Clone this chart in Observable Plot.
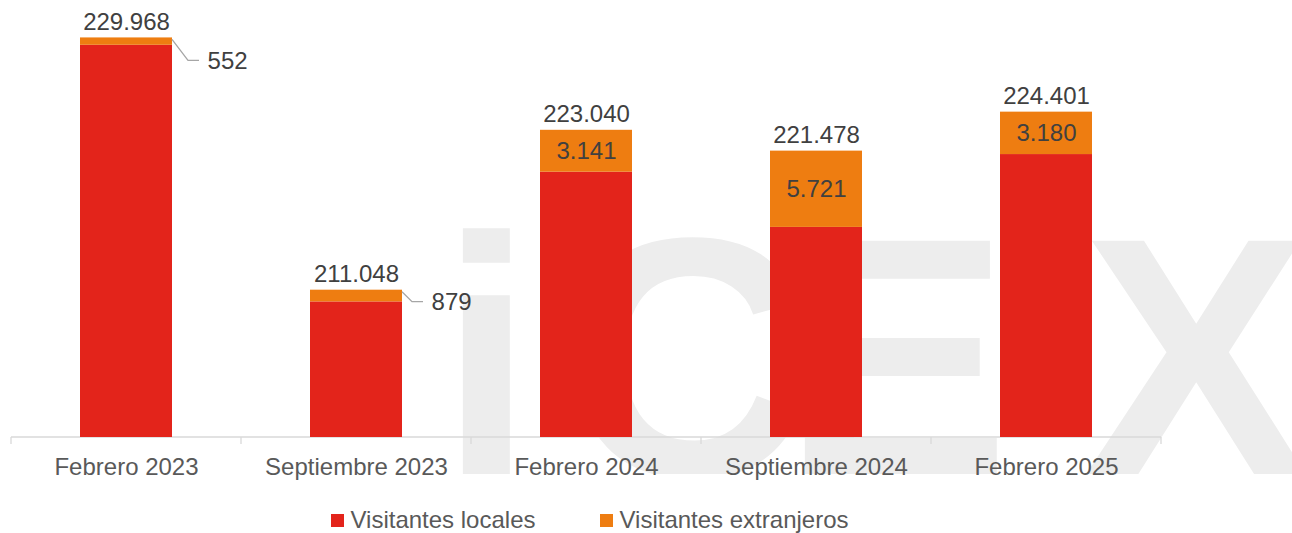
<!DOCTYPE html>
<html>
<head>
<meta charset="utf-8">
<script src="https://cdn.jsdelivr.net/npm/d3@7"></script>
<script src="https://cdn.jsdelivr.net/npm/@observablehq/plot@0.6"></script>
<style>
  html, body { margin: 0; padding: 0; background: #fff; }
  #wrap { position: relative; width: 1292px; height: 533px; overflow: hidden; font-family: "Liberation Sans", Arial, sans-serif; }
  #wm { position: absolute; left: 0; top: 0; }
  #chart { position: absolute; left: 0; top: 0; }
  #legend { position: absolute; left: 0; top: 490px; width: 1180px; display: flex; justify-content: center; padding-top: 18px; line-height: 24px; font-size: 24px; color: #595959; }
  .item { display: flex; align-items: center; }
  .sw { width: 13px; height: 13px; margin-right: 6px; }
</style>
</head>
<body>
<div id="wrap">
  <svg id="wm" width="1292" height="474" aria-hidden="true">
    <g fill="#ededed" font-family="'Liberation Sans', Arial, sans-serif" font-weight="bold" font-size="342">
      <text x="439" y="476">i</text>
      <text x="562" y="476">C</text>
      <text x="782" y="476">E</text>
      <text x="1082" y="476">X</text>
    </g>
  </svg>
  <div id="chart"></div>
  <div id="legend"></div>
</div>
<script>
// ---- data ----
const categories = ["Febrero 2023", "Septiembre 2023", "Febrero 2024", "Septiembre 2024", "Febrero 2025"];
const totals  = [229968, 211048, 223040, 221478, 224401];
const foreign = [552, 879, 3141, 5721, 3180];
const locals  = [229416, 210169, 219899, 215757, 221221];
const seriesNames = ["Visitantes locales", "Visitantes extranjeros"];
const yDomain = [200000, 230000];

const colors = {local: "#E3241B", foreign: "#EE7D11"};
const esFmt = d3.formatLocale({decimal: ",", thousands: ".", grouping: [3], currency: ["", " €"]}).format(",d");

const data = categories.map((c, i) => ({cat: c, total: totals[i], foreign: foreign[i], local: locals[i]}));
const inside = data.filter(d => d.foreign >= 2000);
const outside = data.filter(d => d.foreign < 2000);
// callout label styling (px offsets)
const callout = {"Febrero 2023": {dy: 23, diag: 16}, "Septiembre 2023": {dy: 12, diag: 10}};

const W = 1292, H = 490, mL = 10, mR = 130, mT = 37, mB = 53;
const step = (W - mL - mR) / categories.length;
const bw = step * 0.4;

function bandOf(x) {
  const b = x.bandwidth;
  return typeof b === "function" ? b() : (b ?? bw);
}

function axisDecor(index, scales) {
  const x = scales.x, y = scales.y;
  const b = bandOf(x);
  const st = x(categories[1]) - x(categories[0]);
  const y0 = y(yDomain[0]);
  const g = d3.create("svg:g").attr("stroke", "#d9d9d9").attr("fill", "none");
  const xs = categories.map(c => x(c) - (st - b) / 2);
  xs.push(x(categories[categories.length - 1]) + b + (st - b) / 2);
  g.append("line").attr("x1", xs[0]).attr("x2", xs[xs.length - 1]).attr("y1", y0).attr("y2", y0).attr("stroke-width", 1.6);
  xs.forEach(v => g.append("line").attr("x1", v).attr("x2", v).attr("y1", y0).attr("y2", y0 + 7).attr("stroke-width", 1.3));
  return g.node();
}

function leaders(index, scales) {
  const x = scales.x, y = scales.y;
  const b = bandOf(x);
  const g = d3.create("svg:g").attr("stroke", "#a6a6a6").attr("fill", "none").attr("stroke-width", 1.3);
  outside.forEach(d => {
    const c = callout[d.cat];
    const x0 = x(d.cat) + b, y0 = y(d.total) + 2;
    const ly = y(d.total) + c.dy;
    const x1 = x0 + c.diag, x2 = x1 + 11;
    g.append("polyline").attr("points", `${x0},${y0} ${x1},${ly} ${x2},${ly}`);
  });
  return g.node();
}

const marks = [
  axisDecor,
  Plot.barY(data, {x: "cat", y1: () => yDomain[0], y2: "local", fill: colors.local}),
  Plot.barY(data, {x: "cat", y1: "local", y2: "total", fill: colors.foreign}),
  Plot.text(data, {x: "cat", y: "total", text: d => esFmt(d.total), lineAnchor: "bottom", dy: -8, fontSize: 24, fill: "#404040"}),
  Plot.text(inside, {x: "cat", y: d => (d.local + d.total) / 2, text: d => esFmt(d.foreign), fontSize: 24, fill: "#404040"}),
  leaders,
  ...outside.map(d => Plot.text([d], {x: "cat", y: "total", text: d => esFmt(d.foreign), textAnchor: "start", dx: bw / 2 + callout[d.cat].diag + 11 + 8, dy: callout[d.cat].dy, fontSize: 24, fill: "#404040"})),
  Plot.axisX({tickSize: 0, tickPadding: 20, fontSize: 24, fill: "#595959", label: null})
];

const chart = Plot.plot({
  width: W, height: H,
  marginLeft: mL, marginRight: mR, marginTop: mT, marginBottom: mB,
  style: {fontFamily: "'Liberation Sans', Arial, sans-serif", fontSize: "24px", background: "transparent", overflow: "visible"},
  x: {type: "band", domain: categories, paddingInner: 0.6, paddingOuter: 0.3},
  y: {domain: yDomain, axis: null},
  marks
});
document.getElementById("chart").appendChild(chart);

const legend = document.getElementById("legend");
[[seriesNames[0], colors.local], [seriesNames[1], colors.foreign]].forEach(([name, col], i) => {
  const it = document.createElement("div");
  it.className = "item";
  if (i > 0) it.style.marginLeft = "65px";
  const sw = document.createElement("span");
  sw.className = "sw"; sw.style.background = col;
  const tx = document.createElement("span");
  tx.textContent = name;
  it.appendChild(sw); it.appendChild(tx);
  legend.appendChild(it);
});
</script>
</body>
</html>
